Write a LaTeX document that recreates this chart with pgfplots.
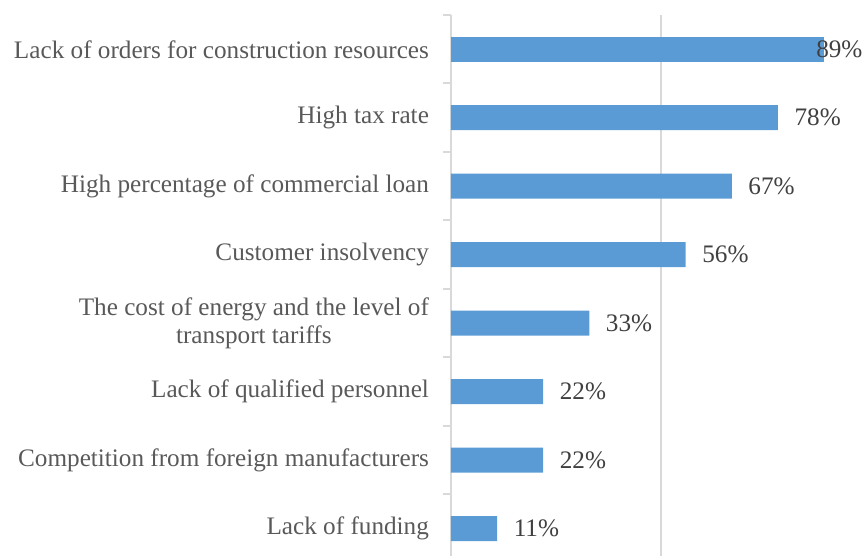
\documentclass[border=0pt]{standalone}
\usepackage{fontspec}
\setmainfont{Liberation Serif}
\usepackage{pgfplots}
\pgfplotsset{compat=1.18}
\definecolor{barblue}{RGB}{91,155,213}
\definecolor{gridgray}{RGB}{217,217,217}
\definecolor{labelgray}{RGB}{89,89,89}
\definecolor{valuegray}{RGB}{64,64,64}
\begin{document}
\begin{tikzpicture}
  \begin{axis}[
    at={(0,0)}, anchor=south west,
    scale only axis,
    width=206pt, height=270.5pt,
    xbar, bar width=12.5pt, bar shift=0pt,
    xmin=0, xmax=98.3,
    ymin=-0.5, ymax=7.4,
    y dir=reverse,
    enlargelimits=false,
    clip=false,
    axis lines*=left,
    x axis line style={draw=none},
    y axis line style={draw=gridgray, line width=1pt},
    xtick={50}, xticklabels={},
    xtick style={draw=none},
    xmajorgrids,
    major x grid style={draw=gridgray, line width=1pt},
    ytick={0,...,7},
    minor ytick={-0.5,0.5,...,6.5},
    major tick length=0pt,
    minor tick length=4pt,
    tick align=outside,
    minor y tick style={draw=gridgray, line width=1pt},
    yticklabels={
      Lack of orders for construction resources,
      High tax rate,
      High percentage of commercial loan,
      Customer insolvency,
      {The cost of energy and the level of\\transport tariffs},
      Lack of qualified personnel,
      Competition from foreign manufacturers,
      Lack of funding},
    yticklabel style={align=center, text=labelgray,
      font=\fontsize{12.6}{14}\selectfont, xshift=-7.5pt},
    point meta=x,
    nodes near coords={\pgfmathprintnumber{\pgfplotspointmeta}\%},
    nodes near coords style={text=valuegray,
      font=\fontsize{12.6}{14}\selectfont,
      /pgf/number format/assume math mode=true},
  ]
    \addplot[fill=barblue, draw=none,
      nodes near coords style={xshift=4.8pt}] coordinates {
      (78,1) (67,2) (56,3) (33,4) (22,5) (22,6) (11,7)
    };
    \addplot[fill=barblue, draw=none,
      nodes near coords style={xshift=-7.4pt}] coordinates {
      (89,0)
    };
  \end{axis}
  \pgfresetboundingbox
  \useasboundingbox (-225.5pt,0pt) rectangle (206pt,278pt);
\end{tikzpicture}
\end{document}
